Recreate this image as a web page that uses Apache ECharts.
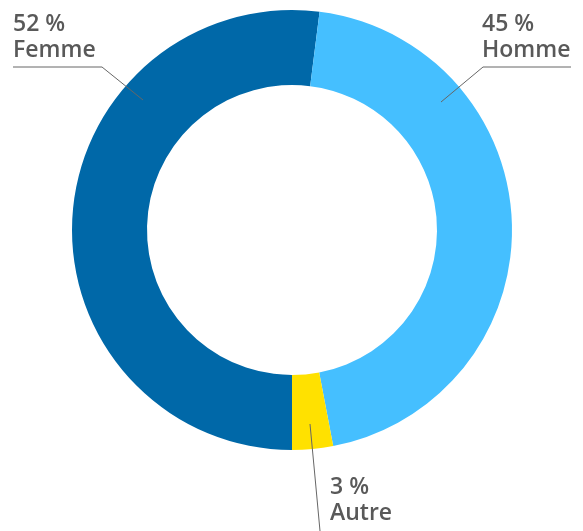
<!DOCTYPE html>
<html>
<head>
<meta charset="utf-8">
<script src="https://cdn.jsdelivr.net/npm/echarts@6/dist/echarts.min.js"></script>
<style>
  html, body { margin: 0; padding: 0; background: #fff; }
  #chart { width: 583px; height: 531px; }
</style>
</head>
<body>
<div id="chart"></div>
<script>
// data
const categories = ['Femme', 'Homme', 'Autre'];
const values = [52, 45, 3];
const colors = ['#0068A8', '#45BFFF', '#FFE100'];

// label placement (text anchor + line points), per slice
const labelSpots = [
  { x: 13, y: 63, va: 'bottom', line: [[143, 100], [102, 67], [13, 67]] },
  { x: 482, y: 63, va: 'bottom', line: [[441, 102], [483, 67], [571, 67]] },
  { x: 330, y: 474, va: 'top', line: [[310, 424], [315, 477], [320, 531]] }
];

const myChart = echarts.init(document.getElementById('chart'));

const pieBase = {
  type: 'pie',
  center: [292, 230],
  radius: [145, 220],
  startAngle: 270,
  clockwise: true,
  avoidLabelOverlap: false,
  emphasis: { disabled: true },
  silent: true
};

const option = {
  animation: false,
  series: [
    Object.assign({}, pieBase, {
      label: { show: false },
      labelLine: { show: false },
      data: categories.map(function (name, i) {
        return { name: name, value: values[i], itemStyle: { color: colors[i] } };
      })
    }),
    // transparent copy on top, only to carry the labels and their lines above the ring
    Object.assign({}, pieBase, {
      z: 5,
      label: {
        show: true,
        formatter: '{c} %\n{b}',
        color: '#595959',
        fontFamily: 'Open Sans',
        fontSize: 23,
        fontWeight: 600,
        lineHeight: 26
      },
      labelLine: {
        show: true,
        lineStyle: { color: '#666', width: 1 }
      },
      labelLayout: function (params) {
        const s = labelSpots[params.dataIndex];
        return {
          x: s.x,
          y: s.y,
          align: 'left',
          verticalAlign: s.va,
          labelLinePoints: s.line
        };
      },
      data: categories.map(function (name, i) {
        return { name: name, value: values[i], itemStyle: { color: 'rgba(0,0,0,0)' } };
      })
    })
  ]
};

myChart.setOption(option);
</script>
</body>
</html>
